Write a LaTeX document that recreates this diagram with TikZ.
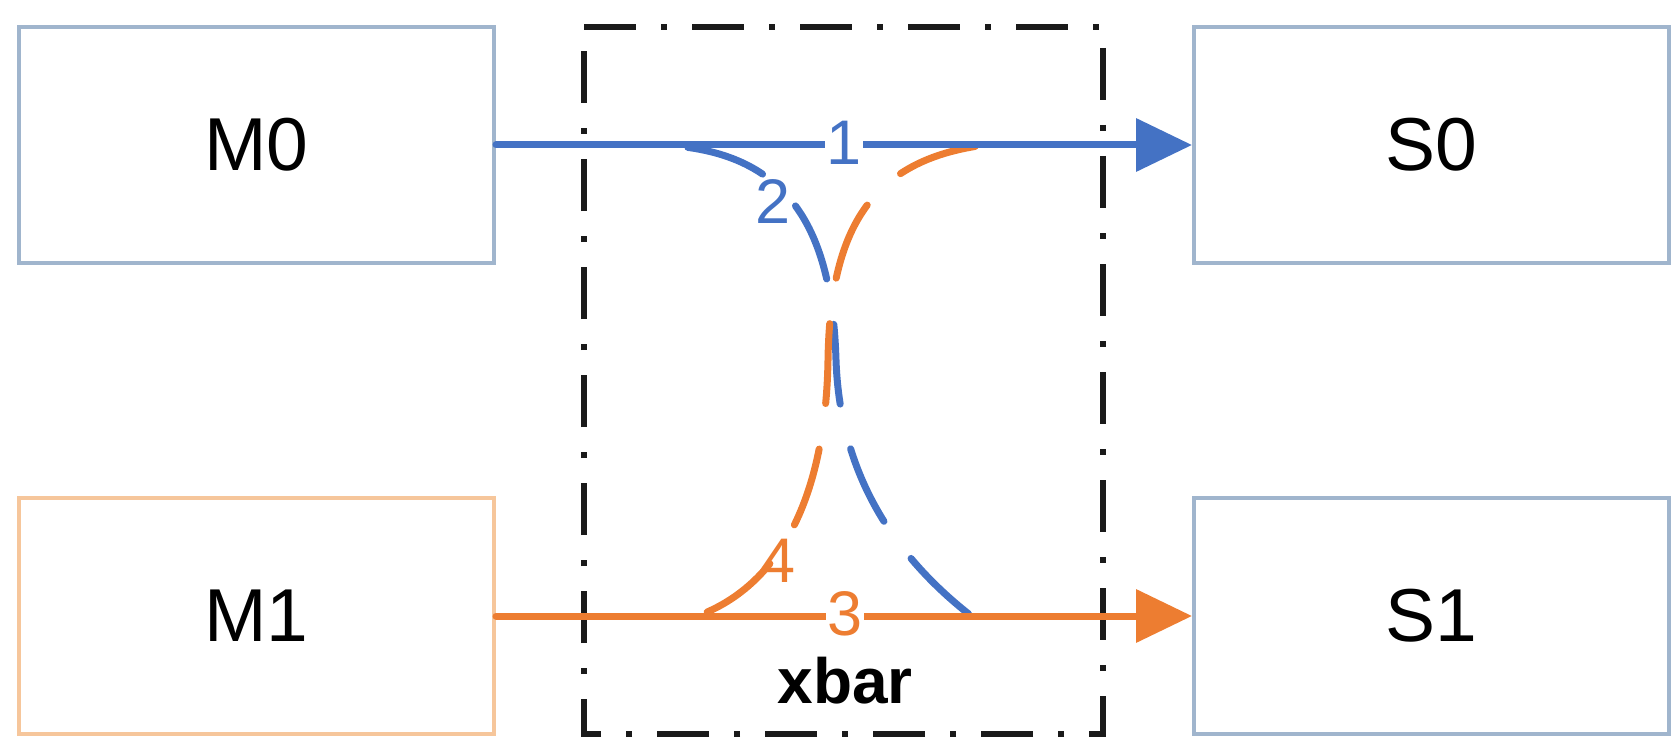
\documentclass[tikz,border=0pt]{standalone}
\usepackage{fontspec}
\setmainfont{Liberation Sans}
\usetikzlibrary{arrows.meta}
\definecolor{lblue}{HTML}{4472C4}
\definecolor{lorange}{HTML}{ED7D31}
\definecolor{boxblue}{HTML}{A0B5CD}
\definecolor{boxorange}{HTML}{F6C69B}
\definecolor{xk}{HTML}{1A1A1A}
\tikzset{
  unit/.style={draw=boxblue, line width=4pt, minimum width=475pt, minimum height=236pt, inner sep=0pt, font=\fontsize{75}{80}\selectfont},
  bigline/.style={line width=7pt, line cap=round},
  curvy/.style={line width=7pt, line cap=round, dash pattern=on 80pt off 46pt},
  edgelabel/.style={fill=white, inner sep=1pt, font=\fontsize{63}{66}\selectfont},
  frame/.style={draw=xk, line width=5.5pt, dash pattern=on 52pt off 25pt on 6pt off 25pt},
  tip/.style={-{Triangle[length=56pt,width=52pt]}}
}
\begin{document}
\begin{tikzpicture}[x=1pt,y=-1pt]
\useasboundingbox (0,0) rectangle (1677,746);
\coordinate (f1) at (584,27);
\coordinate (f2) at (1103,27);
\coordinate (f3) at (1103,734);
\coordinate (f4) at (584,734);
\draw[frame] (f1) -- (f2) -- (f3) -- (f4) -- cycle;
\node[unit] (M0) at (256.5,145) {M0};
\node[unit, draw=boxorange] (M1) at (256.5,616) {M1};
\node[unit] (S0) at (1431.5,145) {S0};
\node[unit] (S1) at (1431.5,616) {S1};
\coordinate (b0) at (660,145);
\coordinate (b1) at (970,615);
\coordinate (o0) at (985,145);
\coordinate (o1) at (700,615);
\draw[curvy, lblue, dash phase=98pt] (b0) .. controls (790,150) and (832,230) .. (836,360) .. controls (840,480) and (900,560) .. (b1);
\draw[curvy, lorange, dash phase=116pt] (o0) .. controls (870,160) and (830,230) .. (828,360) .. controls (826,480) and (790,580) .. (o1);
\draw[bigline, lblue, tip] (M0.east) -- (S0.west);
\draw[bigline, lorange, tip] (M1.east) -- (S1.west);
\node[edgelabel, text=lblue] (l1) at (844,143) {1};
\node[edgelabel, text=lorange] (l3) at (845,614) {3};
\node[edgelabel, text=lblue, fill=none] (l2) at (773,202) {2};
\node[edgelabel, text=lorange, fill=none] (l4) at (778,561) {4};
\node[font=\bfseries\fontsize{64}{68}\selectfont] (xb) at (845,681) {xbar};
\end{tikzpicture}
\end{document}
